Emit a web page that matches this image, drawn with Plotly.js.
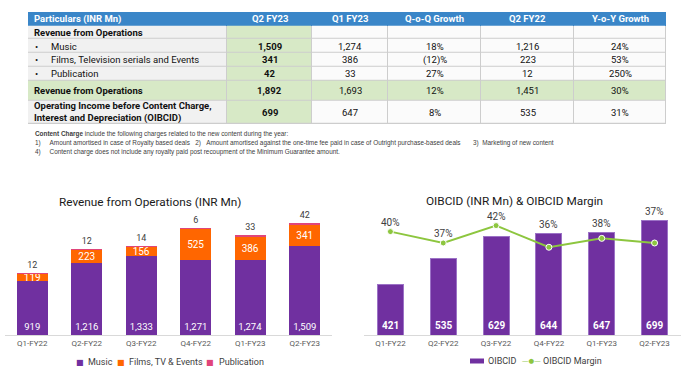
<!DOCTYPE html>
<html><head><meta charset="utf-8">
<script src="https://cdn.plot.ly/plotly-3.0.1.min.js"></script>
<style>html,body{margin:0;padding:0;background:#fff}#chart{width:690px;height:369px}</style>
</head><body><div id="chart"></div>
<script>
// ---------- data ----------
const quarters = ['Q1-FY22','Q2-FY22','Q3-FY22','Q4-FY22','Q1-FY23','Q2-FY23'];
const music = [919,1216,1333,1271,1274,1509];
const films = [119,223,156,525,386,341];
const publication = [12,12,14,6,33,42];
const oibcid = [421,535,629,644,647,699];
const oibcidMargin = [40.1,36.9,41.8,35.7,38.2,36.9];

const tableHeader = ['Particulars (INR Mn)','Q2 FY23','Q1 FY23','Q-o-Q Growth','Q2 FY22','Y-o-Y Growth'];
const tableRows = ['Revenue from Operations','Music','Films, Television serials and Events','Publication','Revenue from Operations','Operating Income before Content Charge,<br>Interest and Depreciation (OIBCID)'];
const rowKind = ['head','item','item','item','total','head'];
const colQ2FY23 = ['','1,509','341','42','1,892','699'];
const colQ1FY23 = ['','1,274','386','33','1,693','647'];
const colQoQ = ['','18%','(12)%','27%','12%','8%'];
const colQ2FY22 = ['','1,216','223','12','1,451','535'];
const colYoY = ['','24%','53%','250%','30%','31%'];

const NB = n => '\u00a0'.repeat(n);
const noteLines = [
  '<b>Content Charge</b> include the following charges related to the new content during the year:',
  '1)' + NB(5) + 'Amount amortised in case of Royalty based deals' + NB(3) + '2)' + NB(3) + 'Amount amortised against the one-time fee paid in case of Outright purchase-based deals' + NB(7) + '3)' + NB(2) + 'Marketing of new content',
  '4)' + NB(5) + 'Content charge does not include any royalty paid post recoupment of the Minimum Guarantee amount.'
];

// ---------- layout constants (table grid geometry, px units of the table axes) ----------
const COL_EDGES = [0, 199, 284, 360, 453, 546, 638];
const ROW_EDGES = [0, 13.7, 27, 41, 54.4, 68.7, 88.4, 111.7];

// ---------- styles ----------
const PURPLE = '#7030A0', ORANGE = '#FF6600', PINK = '#E0457B', GREEN = '#8DC63F';
const FONT = 'Roboto, "Liberation Sans", Arial, sans-serif';
const fmt = v => v.toLocaleString('en-US');

// ---------- table (heatmap cells + text) ----------
const bodyCols = [tableRows, colQ2FY23, colQ1FY23, colQoQ, colQ2FY22, colYoY];
const zBody = rowKind.map(k => bodyCols.map((_, c) => (c === 1 || k === 'total') ? 2 : (c === 0 ? 1 : 0)));
const tableBody = {
  type: 'heatmap', x: COL_EDGES, y: ROW_EDGES.slice(1), z: zBody,
  xaxis: 'x3', yaxis: 'y4', zmin: 0, zmax: 2, showscale: false, xgap: 1, ygap: 1,
  colorscale: [[0,'#FBFBFB'],[0.33,'#FBFBFB'],[0.33,'#F1F1F1'],[0.67,'#F1F1F1'],[0.67,'#D7E9C6'],[1,'#D7E9C6']],
  hoverinfo: 'skip', showlegend: false
};
const tableHead = {
  type: 'heatmap', x: [COL_EDGES[0], COL_EDGES[COL_EDGES.length-1]], y: ROW_EDGES.slice(0, 2), z: [[1]],
  xaxis: 'x3', yaxis: 'y4', showscale: false,
  colorscale: [[0,'#3A86C8'],[1,'#3A86C8']], hoverinfo: 'skip', showlegend: false
};

const annotations = [];
const rowMid = r => (ROW_EDGES[r] + ROW_EDGES[r+1]) / 2;
const colMid = c => (COL_EDGES[c] + COL_EDGES[c+1]) / 2;
tableHeader.forEach((h, c) => annotations.push({
  text: '<b>' + h + '</b>', x: c === 0 ? COL_EDGES[0] + 4 : colMid(c), y: rowMid(0),
  xref: 'x3', yref: 'y4', xanchor: c === 0 ? 'left' : 'center', yanchor: 'middle', showarrow: false,
  font: {family: FONT, size: 9.5, color: '#FFFFFF'}
}));
rowKind.forEach((k, r) => {
  bodyCols.forEach((col, c) => {
    let t = col[r];
    if (!t) return;
    const bold = c === 1 || (c === 0 && k !== 'item');
    if (bold) t = '<b>' + t + '</b>';
    let x = colMid(c), xa = 'center';
    if (c === 0) {
      xa = 'left';
      x = COL_EDGES[0] + (k === 'item' ? 21 : 4);
      if (k === 'item') annotations.push({
        text: '\u2022', x: COL_EDGES[0] + 5, y: rowMid(r + 1), xref: 'x3', yref: 'y4',
        xanchor: 'left', yanchor: 'middle', showarrow: false, font: {family: FONT, size: 9.5, color: '#111111'}
      });
    }
    annotations.push({
      text: t, x: x, y: rowMid(r + 1), xref: 'x3', yref: 'y4', xanchor: xa, yanchor: 'middle',
      align: 'left', showarrow: false, font: {family: FONT, size: 9.5, color: '#111111'}
    });
  });
});

// ---------- charts ----------
const musicTrace = {
  type: 'bar', name: 'Music', x: quarters, y: music, xaxis: 'x', yaxis: 'y',
  marker: {color: PURPLE}, width: 0.57,
  text: music.map(fmt), textposition: 'inside', insidetextanchor: 'start',
  textfont: {family: FONT, size: 9.5, color: '#FFFFFF'}, constraintext: 'none',
  showlegend: false, hoverinfo: 'none'
};
const filmsTrace = {
  type: 'bar', name: 'Films, TV & Events', x: quarters, y: films, xaxis: 'x', yaxis: 'y',
  marker: {color: ORANGE}, width: 0.57,
  text: films.map(fmt), textposition: 'inside', insidetextanchor: 'middle',
  textfont: {family: FONT, size: 10, color: '#FFFFFF'}, constraintext: 'none',
  showlegend: false, hoverinfo: 'none'
};
const pubTrace = {
  type: 'bar', name: 'Publication', x: quarters, y: publication, xaxis: 'x', yaxis: 'y',
  marker: {color: PINK}, width: 0.57,
  text: publication.map(fmt), textposition: 'outside', cliponaxis: false,
  textfont: {family: FONT, size: 9, color: '#404040'}, constraintext: 'none',
  showlegend: false, hoverinfo: 'none'
};
const oibcidTrace = {
  type: 'bar', name: 'OIBCID', x: quarters, y: oibcid, xaxis: 'x2', yaxis: 'y2',
  marker: {color: PURPLE, line: {color: '#9C72C6', width: 1}}, width: 0.49,
  showlegend: false, hoverinfo: 'none'
};
const marginTrace = {
  type: 'scatter', mode: 'lines+markers', name: 'OIBCID Margin',
  x: quarters, y: oibcidMargin, xaxis: 'x2', yaxis: 'y3',
  line: {color: GREEN, width: 2},
  marker: {color: GREEN, size: 6, line: {color: '#FFFFFF', width: 1}},
  showlegend: false, hoverinfo: 'none', cliponaxis: false
};

const Y2R = [198, 791], Y3R = [11, 49];
annotations.push(
  {text: 'Revenue from Operations (INR Mn)', xref: 'paper', yref: 'paper', x: 150/690, y: 1 - 202/369,
   xanchor: 'center', yanchor: 'middle', showarrow: false, font: {family: FONT, size: 11.8, color: '#1A1A1A'}},
  {text: 'OIBCID (INR Mn) & OIBCID Margin', xref: 'paper', yref: 'paper', x: 514/690, y: 1 - 201/369,
   xanchor: 'center', yanchor: 'middle', showarrow: false, font: {family: FONT, size: 11.8, color: '#1A1A1A'}}
);
[134, 143, 152].forEach((py, i) => annotations.push({
  text: noteLines[i], xref: 'paper', yref: 'paper', x: 33/690, y: 1 - py/369,
  xanchor: 'left', yanchor: 'middle', showarrow: false,
  font: {family: '"Liberation Sans", Arial, sans-serif', size: 6.4, color: '#404040'}
}));
oibcidMargin.forEach((m, i) => {
  const asY2 = Y2R[0] + (m - Y3R[0]) / (Y3R[1] - Y3R[0]) * (Y2R[1] - Y2R[0]);
  annotations.push({
    text: Math.round(m) + '%', x: quarters[i], y: Math.max(asY2, oibcid[i]),
    xref: 'x2', yref: 'y2', showarrow: false, yanchor: 'middle', yshift: 9,
    font: {family: FONT, size: 10, color: '#404040'}
  });
});
oibcid.forEach((v, i) => annotations.push({
  text: '<b>' + fmt(v) + '</b>', x: quarters[i], y: Y2R[0], xref: 'x2', yref: 'y2',
  showarrow: false, yanchor: 'bottom', yshift: 2, font: {family: FONT, size: 10, color: '#FFFFFF'}
}));

// ---------- compact legends (symbol + trace name) ----------
const shapes = [{type: 'rect', xref: 'x3', yref: 'y4', layer: 'below',
  x0: COL_EDGES[0], x1: COL_EDGES[COL_EDGES.length-1], y0: ROW_EDGES[1], y1: ROW_EDGES[ROW_EDGES.length-1],
  fillcolor: '#CDCDCD', line: {color: '#CDCDCD', width: 1}}];
const legendItems = [
  {trace: musicTrace, glyph: '\u25A0', gsize: 8, gx: 80, tx: 86, py: 362},
  {trace: filmsTrace, glyph: '\u25A0', gsize: 8, gx: 121, tx: 127, py: 362},
  {trace: pubTrace, glyph: '\u25A0', gsize: 8, gx: 210, tx: 217, py: 362},
  {trace: oibcidTrace, glyph: null, gx: 477, tx: 486, py: 361},
  {trace: marginTrace, glyph: '\u2014\u25CF\u2014', gsize: 6.5, gx: 531.5, tx: 541, py: 361}
];
legendItems.forEach(it => {
  const col = it.trace.marker.color;
  if (it.glyph) {
    annotations.push({text: it.glyph, xref: 'paper', yref: 'paper', x: it.gx/690, y: 1 - it.py/369,
      xanchor: 'center', yanchor: 'middle', showarrow: false,
      font: {family: '"DejaVu Sans", sans-serif', size: it.gsize, color: col}});
  } else {
    shapes.push({type: 'rect', xref: 'paper', yref: 'paper', x0: (it.gx - 7)/690, x1: (it.gx + 7)/690,
      y0: 1 - (it.py + 2.5)/369, y1: 1 - (it.py - 2.5)/369, fillcolor: col, line: {width: 0}});
  }
  annotations.push({text: it.trace.name, xref: 'paper', yref: 'paper', x: it.tx/690, y: 1 - it.py/369,
    xanchor: 'left', yanchor: 'middle', showarrow: false,
    font: {family: FONT, size: 9, color: '#404040'}});
});

const axX = {
  showline: true, linecolor: '#D9D9D9', linewidth: 1, ticks: '', showgrid: false, zeroline: false,
  tickfont: {family: FONT, size: 8, color: '#595959'}, fixedrange: true
};
const layout = {
  width: 690, height: 369, margin: {l: 0, r: 0, t: 0, b: 0, autoexpand: false},
  paper_bgcolor: '#FFFFFF', plot_bgcolor: 'rgba(0,0,0,0)',
  barmode: 'stack', showlegend: false,
  xaxis: Object.assign({}, axX, {domain: [5/690, 332/690], anchor: 'y'}),
  yaxis: {domain: [1 - 335/369, 1 - 200/369], range: [0, 2280], visible: false, fixedrange: true},
  xaxis2: Object.assign({}, axX, {domain: [364/690, 681/690], anchor: 'y2'}),
  yaxis2: {domain: [1 - 335/369, 1 - 200/369], range: Y2R, visible: false, fixedrange: true, anchor: 'x2'},
  yaxis3: {overlaying: 'y2', range: Y3R, visible: false, fixedrange: true, anchor: 'x2'},
  xaxis3: {domain: [28/690, 666/690], range: [COL_EDGES[0], COL_EDGES[COL_EDGES.length-1]], visible: false, anchor: 'y4', fixedrange: true},
  yaxis4: {domain: [1 - 124/369, 1 - 12/369], range: [ROW_EDGES[ROW_EDGES.length-1], ROW_EDGES[0]], visible: false, anchor: 'x3', fixedrange: true},
  shapes: shapes,
  annotations: annotations
};

Plotly.newPlot('chart', [tableHead, tableBody, musicTrace, filmsTrace, pubTrace, oibcidTrace, marginTrace], layout,
  {displayModeBar: false, staticPlot: true});
</script>
</body></html>
